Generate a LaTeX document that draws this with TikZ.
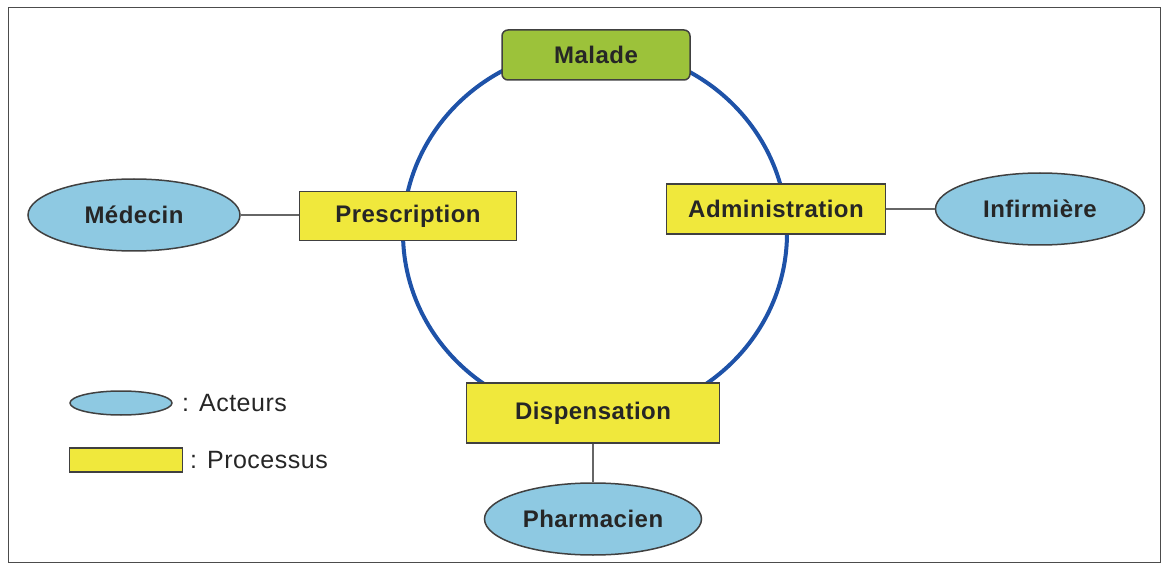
\documentclass[tikz,border=0pt]{standalone}
\usepackage{fontspec}
\setmainfont{Liberation Sans}
\newfontfamily\lblfont[LetterSpace=2]{Liberation Sans}
\usetikzlibrary{shapes.geometric}
\definecolor{procyellow}{HTML}{F0E83C}
\definecolor{actblue}{HTML}{8EC9E2}
\definecolor{malgreen}{HTML}{9CC23A}
\definecolor{ringblue}{HTML}{1E52A8}
\tikzset{
  lbl/.style={font=\lblfont\bfseries\fontsize{24}{28}\selectfont, text=black!85},
  proc/.style={lbl, draw=black!75, line width=1.5pt, fill=procyellow, rectangle, inner sep=0pt},
  actor/.style={lbl, draw=black!75, line width=1.5pt, fill=actblue, ellipse, inner sep=0pt},
  link/.style={draw=black!60, line width=1.2pt},
  legtext/.style={font=\lblfont\fontsize{25}{28}\selectfont, text=black!85, anchor=west, inner sep=0pt}
}
\begin{document}
\begin{tikzpicture}[x=1pt,y=-1pt]
\useasboundingbox (0,0) rectangle (1167,569);
\draw[black!70, line width=1pt] (8,8) rectangle (1160,562);
% ring
\draw[ringblue, line width=4pt] (595,233) ellipse [x radius=192, y radius=185];
% processes
\node[proc, rounded corners=6pt, fill=malgreen, minimum width=188pt, minimum height=50pt] (malade) at (596,55) {Malade};
\node[proc, minimum width=217pt, minimum height=49pt] (presc) at (408,216) {Prescription};
\node[proc, minimum width=219pt, minimum height=50pt] (admin) at (776,209) {Administration};
\node[proc, minimum width=253pt, minimum height=60pt] (disp) at (593,413) {Dispensation};
% actors
\node[actor, minimum width=212pt, minimum height=72pt] (med) at (134,215) {Médecin};
\node[actor, minimum width=209pt, minimum height=72pt] (inf) at (1040,209) {Infirmière};
\node[actor, minimum width=217pt, minimum height=72pt] (pharm) at (593,519) {Pharmacien};
% links
\draw[link] (med.east) -- (med.east -| presc.west);
\draw[link] (admin.east) -- (admin.east -| inf.west);
\draw[link] (disp.south) -- (pharm.north);
% legend
\node[actor, minimum width=102pt, minimum height=24pt] (legA) at (121,403) {};
\node[legtext] (legAt) at (182,403) {: Acteurs};
\node[proc, minimum width=113pt, minimum height=24pt] (legP) at (126,460) {};
\node[legtext] (legPt) at (190,460) {: Processus};
\end{tikzpicture}
\end{document}
